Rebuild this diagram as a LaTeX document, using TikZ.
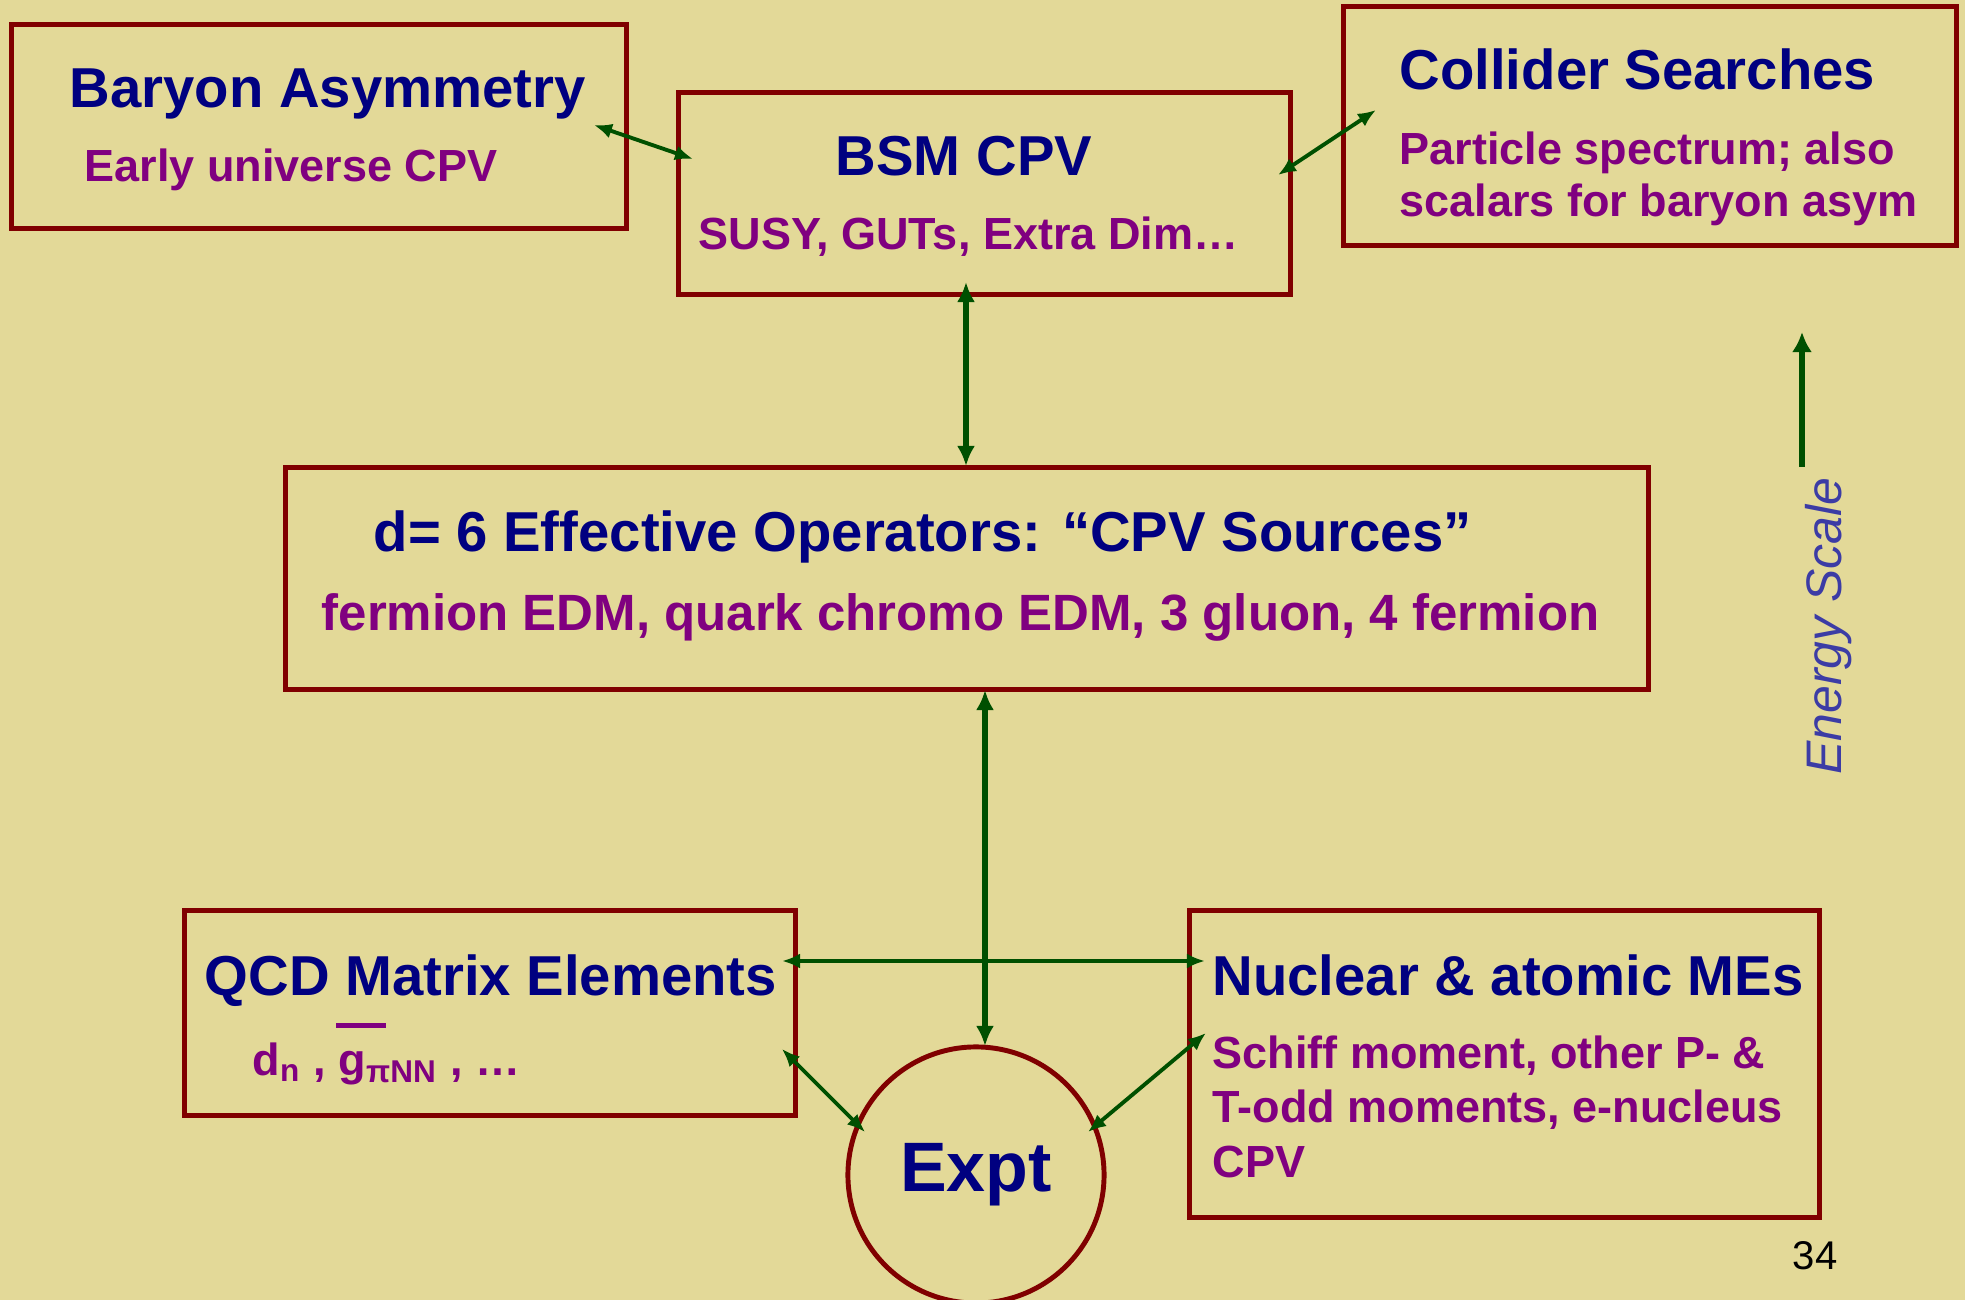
\documentclass[tikz,border=0pt]{standalone}
\usepackage{fontspec}
\setmainfont{Liberation Sans}
\usepackage{tikz}
\usetikzlibrary{arrows.meta}

\definecolor{slidebg}{RGB}{227,217,152}
\definecolor{boxred}{RGB}{128,0,0}
\definecolor{linkgreen}{RGB}{0,80,0}
\definecolor{headblue}{RGB}{0,0,128}
\definecolor{subpurple}{RGB}{128,0,128}
\definecolor{scaleblue}{RGB}{60,60,165}

\tikzset{
  box/.style={draw=boxred, line width=1.4pt, rectangle, inner sep=0},
  head/.style={text=headblue, font=\fontsize{16}{19}\selectfont\bfseries, anchor=base west, inner sep=0},
  sub/.style={text=subpurple, font=\fontsize{12.8}{15}\selectfont\bfseries, anchor=base west, inner sep=0},
  link/.style={draw=linkgreen, line width=1.1pt, {Latex[length=1.8mm,width=1.5mm]}-{Latex[length=1.8mm,width=1.5mm]}},
  trunk/.style={draw=linkgreen, line width=1.5pt, {Latex[length=2mm,width=1.8mm]}-{Latex[length=2mm,width=1.8mm]}},
}

\begin{document}
\begin{tikzpicture}[x=0.01cm, y=-0.01cm]
\fill[slidebg] (0,0) rectangle (1965,1300);
\useasboundingbox (0,0) rectangle (1965,1300);

% boxes
\node[box, minimum width=6.14cm, minimum height=2.03cm] (bary) at (319,126.5) {};
\node[box, minimum width=6.11cm, minimum height=2.01cm] (bsm) at (984.5,193.5) {};
\node[box, minimum width=6.12cm, minimum height=2.38cm] (coll) at (1650,126) {};
\node[box, minimum width=13.62cm, minimum height=2.21cm] (dsix) at (967,578.5) {};
\node[box, minimum width=6.10cm, minimum height=2.04cm] (qcd) at (490,1013) {};
\node[box, minimum width=6.29cm, minimum height=3.06cm] (nucl) at (1504.5,1064) {};
\node[draw=boxred, line width=1.4pt, circle, minimum size=2.56cm, inner sep=0,
      text=headblue, font=\fontsize{19.9}{24}\selectfont\bfseries] (expt) at (976,1175) {Expt};

% texts
\node[head] (bary-t) at (69,108) {Baryon Asymmetry};
\node[sub] (bary-s) at (84,182) {Early universe CPV};
\node[head, anchor=base] (bsm-t) at (964,176) {BSM CPV};
\node[sub] (bsm-s) at (698,250) {SUSY, GUTs, Extra Dim…};
\node[head] (coll-t) at (1399,90) {Collider Searches};
\node[sub] (coll-s1) at (1399,165) {Particle spectrum; also};
\node[sub] (coll-s2) at (1399,217) {scalars for baryon asym};
\node[head] (dsix-t) at (373,551) {d= 6 Effective Operators: “CPV Sources”};
\node[sub, font=\fontsize{14.5}{17}\selectfont\bfseries] (dsix-s) at (321,630)
  {fermion EDM, quark chromo EDM, 3 gluon, 4 fermion};
\node[head] (qcd-t) at (204,995) {QCD Matrix Elements};
\node[sub] (qcd-s) at (252,1075)
  {d\textsubscript{n} , \makebox[0pt][l]{\kern-0.05em\rule[1.05em]{1.1em}{0.11em}}g\textsubscript{πNN} , …};
\node[head] (nucl-t) at (1212,995) {Nuclear \& atomic MEs};
\node[sub] (nucl-s1) at (1212,1068) {Schiff moment, other P- \&};
\node[sub] (nucl-s2) at (1212,1122) {T-odd moments, e-nucleus};
\node[sub] (nucl-s3) at (1212,1177) {CPV};

\node[text=scaleblue, font=\fontsize{14.2}{17}\selectfont\itshape, rotate=90, inner sep=0]
  (scale-t) at (1829,626) {Energy Scale};
\node[font=\fontsize{11.4}{14}\selectfont, anchor=base west, inner sep=0] (page) at (1792,1269) {34};

% connector ends
\coordinate (bary-r) at (594,125);
\coordinate (bsm-l) at (693,159);
\coordinate (bsm-r) at (1278,175);
\coordinate (coll-l) at (1376,110);
\coordinate (bsm-b) at (966,282);
\coordinate (dsix-t-end) at (966,466);
\coordinate (dsix-b) at (985,690);
\coordinate (expt-t) at (985,1046);
\coordinate (qcd-r) at (782,961);
\coordinate (nucl-l) at (1205,961);
\coordinate (qcd-c) at (782,1049);
\coordinate (expt-l) at (865,1132);
\coordinate (nucl-c) at (1206,1033);
\coordinate (expt-r) at (1088,1132);
\coordinate (scale-lo) at (1802,467);
\coordinate (scale-hi) at (1802,332);

% connectors
\draw[link] (bary-r) -- (bsm-l);
\draw[link] (bsm-r) -- (coll-l);
\draw[trunk] (bsm-b) -- (dsix-t-end);
\draw[trunk] (dsix-b) -- (expt-t);
\draw[link] (qcd-r) -- (nucl-l);
\draw[link] (qcd-c) -- (expt-l);
\draw[link] (nucl-c) -- (expt-r);
\draw[linkgreen, line width=1.5pt, -{Latex[length=2mm,width=2mm]}] (scale-lo) -- (scale-hi);
\end{tikzpicture}
\end{document}
